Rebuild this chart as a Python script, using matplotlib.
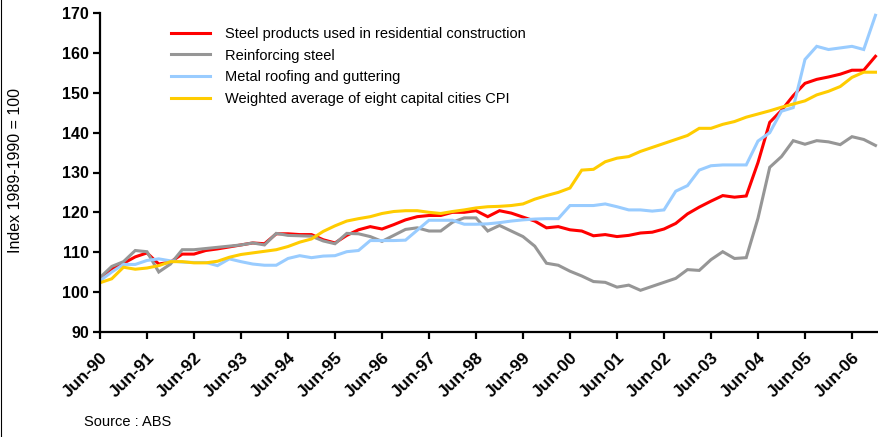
import numpy as np
import matplotlib
matplotlib.use("Agg")
import matplotlib.pyplot as plt
from matplotlib.lines import Line2D

plt.rcParams['font.family'] = ['Liberation Sans', 'DejaVu Sans']

# Quarterly index values, Jun-90 to Dec-06 (1989-1990 = 100)
steel_products = [
    103.3, 105.8, 107.2, 108.8, 109.8, 107.0, 107.5, 109.5, 109.5, 110.4,
    110.8, 111.3, 111.8, 112.3, 112.1, 114.6, 114.6, 114.4, 114.4, 113.1,
    112.3, 114.2, 115.6, 116.4, 115.8, 116.9, 118.1, 118.9, 119.2, 119.2,
    120.0, 120.0, 120.4, 118.9, 120.4, 119.8, 118.8, 117.8, 116.1, 116.4,
    115.6, 115.3, 114.1, 114.4, 113.9, 114.2, 114.8, 115.0, 115.8, 117.2,
    119.6, 121.3, 122.8, 124.2, 123.8, 124.1, 132.5, 142.6, 145.6, 149.3,
    152.4, 153.4, 154.0, 154.7, 155.7, 155.7, 159.2,
]
reinforcing_steel = [
    103.6, 106.4, 107.6, 110.4, 110.1, 105.0, 107.0, 110.6, 110.6, 110.9,
    111.2, 111.5, 111.8, 112.3, 111.8, 114.7, 114.2, 114.1, 114.0, 112.8,
    112.1, 114.7, 114.6, 113.9, 112.7, 114.2, 115.7, 116.1, 115.3, 115.3,
    117.5, 118.6, 118.6, 115.3, 116.7, 115.3, 113.9, 111.5, 107.2, 106.7,
    105.2, 104.0, 102.6, 102.4, 101.2, 101.7, 100.4, 101.4, 102.4, 103.4,
    105.6, 105.4, 108.1, 110.1, 108.4, 108.6, 118.5, 131.3, 134.0, 138.0,
    137.1, 138.0, 137.7, 137.0, 139.0, 138.3, 136.8,
]
metal_roofing = [
    102.8, 105.0, 106.9, 106.9, 107.9, 108.3, 107.8, 107.5, 107.4, 107.4,
    106.6, 108.3, 107.6, 107.0, 106.7, 106.7, 108.4, 109.1, 108.6, 109.0,
    109.1, 110.1, 110.4, 112.9, 112.9, 112.9, 113.0, 115.5, 118.0, 118.0,
    118.0, 117.0, 117.0, 117.1, 117.4, 117.8, 118.1, 118.3, 118.4, 118.4,
    121.7, 121.7, 121.7, 122.1, 121.4, 120.6, 120.6, 120.3, 120.6, 125.3,
    126.7, 130.6, 131.7, 131.9, 131.9, 131.9, 137.9, 140.0, 145.4, 146.3,
    158.4, 161.7, 160.9, 161.3, 161.7, 160.9, 169.5,
]
cpi_eight_cities = [
    102.3, 103.3, 106.2, 105.7, 106.0, 106.6, 107.6, 107.6, 107.3, 107.3,
    107.7, 108.7, 109.4, 109.8, 110.2, 110.6, 111.4, 112.5, 113.3, 115.2,
    116.6, 117.8, 118.4, 118.9, 119.7, 120.2, 120.4, 120.4, 120.0, 119.7,
    120.2, 120.6, 121.1, 121.4, 121.5, 121.7, 122.1, 123.3, 124.2, 125.0,
    126.1, 130.6, 130.8, 132.7, 133.6, 134.0, 135.3, 136.3, 137.3, 138.3,
    139.3, 141.1, 141.1, 142.1, 142.8, 143.9, 144.7, 145.5, 146.4, 147.2,
    148.0, 149.5, 150.4, 151.6, 153.9, 155.2, 155.2,
]

series_names = [
    "Steel products used in residential construction",
    "Reinforcing steel",
    "Metal roofing and guttering",
    "Weighted average of eight capital cities CPI",
]
series_colors = ["#FF0000", "#969696", "#99CCFF", "#FFCC00"]

tick_labels = ["Jun-90", "Jun-91", "Jun-92", "Jun-93", "Jun-94", "Jun-95",
               "Jun-96", "Jun-97", "Jun-98", "Jun-99", "Jun-00", "Jun-01",
               "Jun-02", "Jun-03", "Jun-04", "Jun-05", "Jun-06"]

W, H = 879, 437
fig = plt.figure(figsize=(W / 100, H / 100), dpi=100)
ax = fig.add_axes([100 / W, (H - 331.7) / H, (W - 100) / W, (331.7 - 13.3) / H])

x = np.arange(len(steel_products))
all_series = [steel_products, reinforcing_steel, metal_roofing, cpi_eight_cities]
for vals, name, col in zip(all_series, series_names, series_colors):
    ax.plot(x, vals, color=col, lw=2.2, label=name, solid_joinstyle='miter')

ax.set_xlim(0, 66.3)
ax.set_ylim(90, 170)
ax.set_yticks(np.arange(90, 171, 10))
ax.set_xticks(np.arange(0, 4 * len(tick_labels), 4))
ax.set_xticklabels(tick_labels)

for side in ("top", "right"):
    ax.spines[side].set_visible(False)
for side in ("left", "bottom"):
    ax.spines[side].set_linewidth(1.6)

ax.tick_params(axis='y', direction='out', length=5, width=1.6, pad=3,
               labelsize=11.5)
ax.tick_params(axis='x', direction='out', length=5, width=1.6, pad=8,
               labelsize=12.5)
for lab in ax.get_yticklabels():
    lab.set_fontweight('bold')
for lab in ax.get_xticklabels():
    lab.set_fontweight('bold')
    lab.set_rotation(45)
    lab.set_ha('right')
    lab.set_va('top')
    lab.set_rotation_mode('anchor')

leg = ax.legend(loc='upper left', bbox_to_anchor=(171 / W, 1 - 27 / H),
                bbox_transform=fig.transFigure, frameon=False, fontsize=10.5,
                handlelength=2.7, handletextpad=1.0, labelspacing=0.52,
                borderpad=0, borderaxespad=0)

fig.text(15.5 / W, 1 - 170.5 / H, "Index 1989-1990 = 100", rotation=90,
         ha='center', va='center', fontsize=11.5)
fig.text(84 / W, 1 - 421.7 / H, "Source : ABS", ha='left', va='center',
         fontsize=10.5)

fig.add_artist(Line2D([1.5 / W, 1.5 / W], [0, 1], color='black', lw=0.8,
                      transform=fig.transFigure))

fig.savefig("out.png", dpi=100)
